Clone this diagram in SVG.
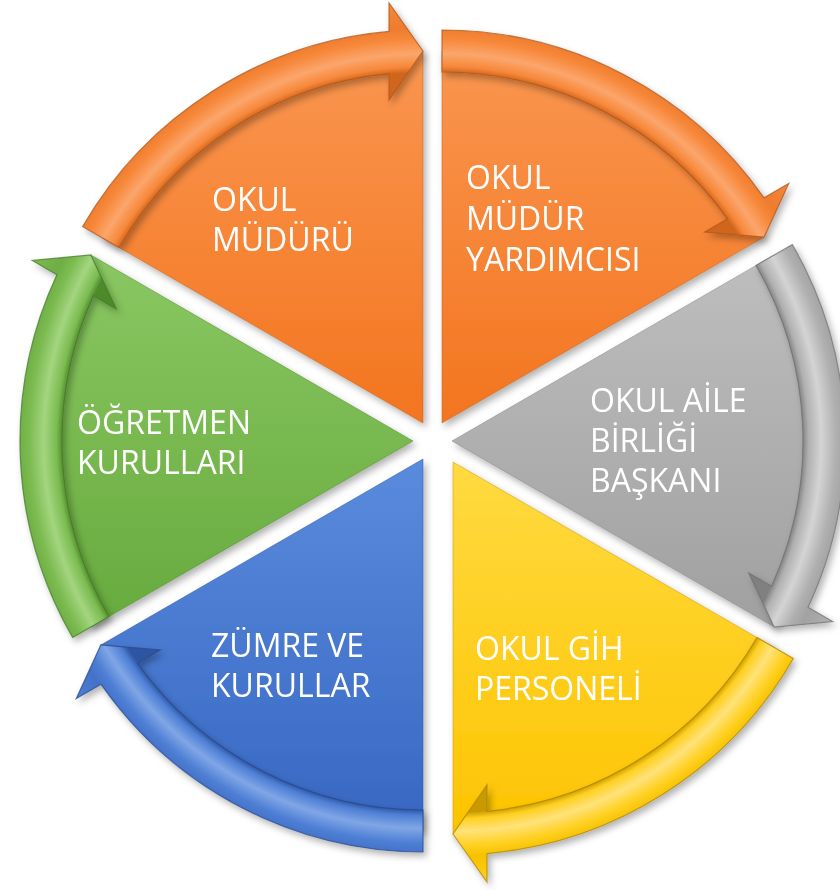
<svg xmlns="http://www.w3.org/2000/svg" width="840" height="890" viewBox="0 0 840 890">
<defs>
<style>
.lbl{font-family:"Open Sans","Liberation Sans",sans-serif;font-size:32px;fill:#ffffff;}
.sh{filter:url(#shadow);}
.wo{stroke:#C0621F;stroke-opacity:.5;stroke-width:1;}
.wg{stroke:#858585;stroke-opacity:.5;stroke-width:1;}
.wy{stroke:#C99A00;stroke-opacity:.5;stroke-width:1;}
.wb{stroke:#2E55A0;stroke-opacity:.5;stroke-width:1;}
.wgr{stroke:#4E8A2C;stroke-opacity:.5;stroke-width:1;}
.band{stroke-opacity:.75;stroke-width:1.2;}
</style>
<filter id="shadow" x="-10%" y="-10%" width="130%" height="130%">
<feDropShadow dx="3" dy="4" stdDeviation="3.5" flood-color="#000" flood-opacity="0.3"/>
</filter>
<linearGradient id="gO" x1="0" y1="0" x2="0" y2="1"><stop offset="0" stop-color="#FA9650"/><stop offset="1" stop-color="#F3751F"/></linearGradient>
<linearGradient id="gG" x1="0" y1="0" x2="0" y2="1"><stop offset="0" stop-color="#BEBEBE"/><stop offset="1" stop-color="#A0A0A0"/></linearGradient>
<linearGradient id="gY" x1="0" y1="0" x2="0" y2="1"><stop offset="0" stop-color="#FFDA40"/><stop offset="1" stop-color="#FDC400"/></linearGradient>
<linearGradient id="gB" x1="0" y1="0" x2="0" y2="1"><stop offset="0" stop-color="#5A8BDD"/><stop offset="1" stop-color="#3767C2"/></linearGradient>
<linearGradient id="gGr" x1="0" y1="0" x2="0" y2="1"><stop offset="0" stop-color="#8AC762"/><stop offset="1" stop-color="#67AA3E"/></linearGradient>
<radialGradient id="bO1" gradientUnits="userSpaceOnUse" cx="423" cy="423" r="422"><stop offset="0.83" stop-color="#D0651C"/><stop offset="0.845" stop-color="#F7883A"/><stop offset="0.875" stop-color="#FBA66C"/><stop offset="0.91" stop-color="#F7883A"/><stop offset="0.935" stop-color="#EE7C2E"/><stop offset="1" stop-color="#F7883A"/></radialGradient>
<radialGradient id="bO2" gradientUnits="userSpaceOnUse" cx="442" cy="423" r="422"><stop offset="0.83" stop-color="#D0651C"/><stop offset="0.845" stop-color="#F7883A"/><stop offset="0.875" stop-color="#FBA66C"/><stop offset="0.91" stop-color="#F7883A"/><stop offset="0.935" stop-color="#EE7C2E"/><stop offset="1" stop-color="#F7883A"/></radialGradient>
<radialGradient id="bG" gradientUnits="userSpaceOnUse" cx="452" cy="441" r="422"><stop offset="0.83" stop-color="#808080"/><stop offset="0.845" stop-color="#B0B0B0"/><stop offset="0.875" stop-color="#D4D4D4"/><stop offset="0.91" stop-color="#B0B0B0"/><stop offset="0.935" stop-color="#A2A2A2"/><stop offset="1" stop-color="#B0B0B0"/></radialGradient>
<radialGradient id="bY" gradientUnits="userSpaceOnUse" cx="453" cy="462" r="422"><stop offset="0.83" stop-color="#C99A00"/><stop offset="0.845" stop-color="#FFD020"/><stop offset="0.875" stop-color="#FFE27A"/><stop offset="0.91" stop-color="#FFD020"/><stop offset="0.935" stop-color="#F5C200"/><stop offset="1" stop-color="#FFD020"/></radialGradient>
<radialGradient id="bB" gradientUnits="userSpaceOnUse" cx="423" cy="459" r="422"><stop offset="0.83" stop-color="#2E55A0"/><stop offset="0.845" stop-color="#4E7FD5"/><stop offset="0.875" stop-color="#80A6E6"/><stop offset="0.91" stop-color="#4E7FD5"/><stop offset="0.935" stop-color="#4372C8"/><stop offset="1" stop-color="#4E7FD5"/></radialGradient>
<radialGradient id="bGr" gradientUnits="userSpaceOnUse" cx="413" cy="441" r="422"><stop offset="0.83" stop-color="#4E8A2C"/><stop offset="0.845" stop-color="#7BBB50"/><stop offset="0.875" stop-color="#A4D580"/><stop offset="0.91" stop-color="#7BBB50"/><stop offset="0.935" stop-color="#6EAE45"/><stop offset="1" stop-color="#7BBB50"/></radialGradient>
</defs>
<rect width="840" height="890" fill="#ffffff"/>

<g id="nodes">
<g id="n-okul-muduru" class="sh">
<path class="wo" fill="url(#gO)" d="M423,423 L100.84,237 A372,372 0 0 1 423,51 Z"/>
<text class="lbl" x="212" y="211">OKUL</text>
<text class="lbl" x="212" y="251">MÜDÜRÜ</text>
</g>
<g id="n-mudur-yardimcisi" class="sh">
<path class="wo" fill="url(#gO)" d="M442,423 L442,51 A372,372 0 0 1 764.16,237 Z"/>
<text class="lbl" x="466" y="189">OKUL</text>
<text class="lbl" x="466" y="230">MÜDÜR</text>
<text class="lbl" x="466" y="271">YARDIMCISI</text>
</g>
<g id="n-aile-birligi" class="sh">
<path class="wg" fill="url(#gG)" d="M452,441 L774.16,255 A372,372 0 0 1 774.16,627 Z"/>
<text class="lbl" x="590" y="412">OKUL AİLE</text>
<text class="lbl" x="590" y="452">BİRLİĞİ</text>
<text class="lbl" x="590" y="492">BAŞKANI</text>
</g>
<g id="n-gih-personeli" class="sh">
<path class="wy" fill="url(#gY)" d="M453,462 L775.16,648 A372,372 0 0 1 453,834 Z"/>
<text class="lbl" x="475" y="660">OKUL GİH</text>
<text class="lbl" x="475" y="700">PERSONELİ</text>
</g>
<g id="n-zumre" class="sh">
<path class="wb" fill="url(#gB)" d="M423,459 L423,831 A372,372 0 0 1 100.84,645 Z"/>
<text class="lbl" x="211" y="657">ZÜMRE VE</text>
<text class="lbl" x="211" y="697">KURULLAR</text>
</g>
<g id="n-ogretmen" class="sh">
<path class="wgr" fill="url(#gGr)" d="M413,441 L90.84,627 A372,372 0 0 1 90.84,255 Z"/>
<text class="lbl" x="77" y="434">ÖĞRETMEN</text>
<text class="lbl" x="77" y="474">KURULLARI</text>
</g>
</g>

<g id="connectors">
<path class="band sh" fill="url(#bO1)" stroke="#B0561A" d="M82.65,226.5 A393,393 0 0 1 389,31.47 L389,3 L423,51 L389,100 L389,73.65 A351,351 0 0 0 119.03,247.5 Z"/>
<path class="band sh" fill="url(#bO2)" stroke="#B0561A" d="M442,30 A393,393 0 0 1 764.07,197.79 L788.73,183.56 L764.16,237 L704.72,232.06 L727.55,218.88 A351,351 0 0 0 442,72 Z"/>
<path class="band sh" fill="url(#bG)" stroke="#707070" d="M792.35,244.5 A393,393 0 0 1 808.07,607.33 L832.73,621.56 L774.16,627 L748.72,573.06 L771.55,586.24 A351,351 0 0 0 755.97,265.5 Z"/>
<path class="band sh" fill="url(#bY)" stroke="#B08600" d="M793.35,658.5 A393,393 0 0 1 487,853.53 L487,882 L453,834 L487,785 L487,811.35 A351,351 0 0 0 756.97,637.5 Z"/>
<path class="band sh" fill="url(#bB)" stroke="#28498C" d="M423,852 A393,393 0 0 1 100.93,684.21 L76.27,698.44 L100.84,645 L160.28,649.94 L137.45,663.12 A351,351 0 0 0 423,810 Z"/>
<path class="band sh" fill="url(#bGr)" stroke="#437A25" d="M72.65,637.5 A393,393 0 0 1 56.93,274.67 L32.27,260.44 L90.84,255 L116.28,308.94 L93.45,295.76 A351,351 0 0 0 109.03,616.5 Z"/>
</g>
</svg>
